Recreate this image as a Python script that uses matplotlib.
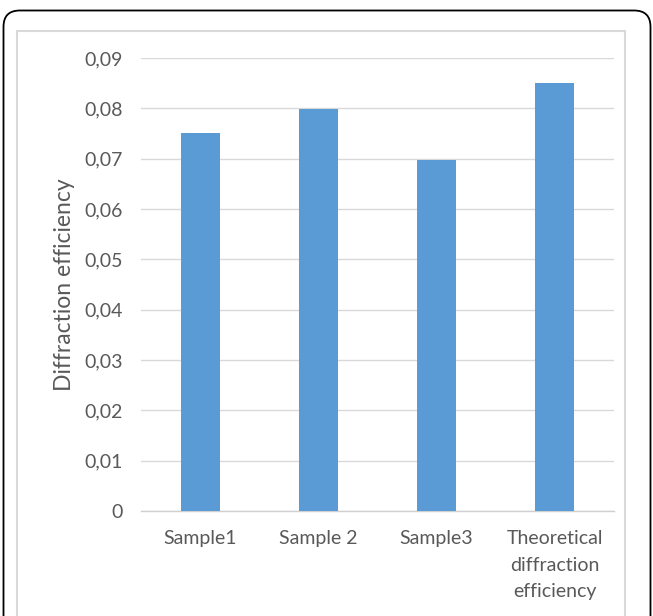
import numpy as np
import matplotlib
matplotlib.use("Agg")
import matplotlib.pyplot as plt
from matplotlib.patches import FancyBboxPatch, Rectangle

categories = ["Sample1", "Sample 2", "Sample3", "Theoretical\ndiffraction\nefficiency"]
efficiency = [0.0751, 0.0798, 0.0697, 0.0851]
yticks = [0, 0.01, 0.02, 0.03, 0.04, 0.05, 0.06, 0.07, 0.08, 0.09]
ytick_labels = ["0", "0,01", "0,02", "0,03", "0,04", "0,05", "0,06", "0,07", "0,08", "0,09"]

W, H = 653, 616
plt.rcParams['font.family'] = ['Lato', 'DejaVu Sans']
fig = plt.figure(figsize=(W / 100, H / 100), dpi=100)

# outer rounded frame, runs off the bottom edge
fig.patches.append(FancyBboxPatch((3.5 / W, -40 / H), 647 / W, (H - 10.5 + 40) / H,
                                  boxstyle="round,pad=0,rounding_size=0.025",
                                  transform=fig.transFigure, fill=False,
                                  edgecolor='black', linewidth=1.3, mutation_aspect=W / H))
# inner chart-area border
fig.patches.append(Rectangle((17 / W, -10 / H), (625 - 17) / W, (H - 31 + 10) / H,
                             transform=fig.transFigure, fill=False,
                             edgecolor='#d9d9d9', linewidth=1.5))

ax = fig.add_axes([141 / W, 1 - 511 / H, (614 - 141) / W, (511 - 58) / H])
x = np.arange(len(categories))
ax.bar(x, efficiency, width=0.33, color='#5b9bd5', zorder=3)

ax.set_xlim(-0.5, len(categories) - 0.5)
ax.set_ylim(0, 0.09)
ax.set_yticks(yticks)
ax.set_yticklabels(ytick_labels)
ax.set_xticks(x)
ax.set_xticklabels(categories, linespacing=1.68, va='top')
ax.tick_params(axis='both', length=0, labelsize=14, colors='#595959')
ax.tick_params(axis='y', pad=13)
ax.tick_params(axis='x', pad=14)

ax.grid(axis='y', color='#d9d9d9', linewidth=1, zorder=0)
for s in ['top', 'right', 'left']:
    ax.spines[s].set_visible(False)
ax.spines['bottom'].set_color('#d0d0d0')
ax.spines['bottom'].set_linewidth(1)

ax.set_ylabel("Diffraction efficiency", fontsize=16.5, color='#595959', labelpad=7)

fig.savefig("out.png", dpi=100)
